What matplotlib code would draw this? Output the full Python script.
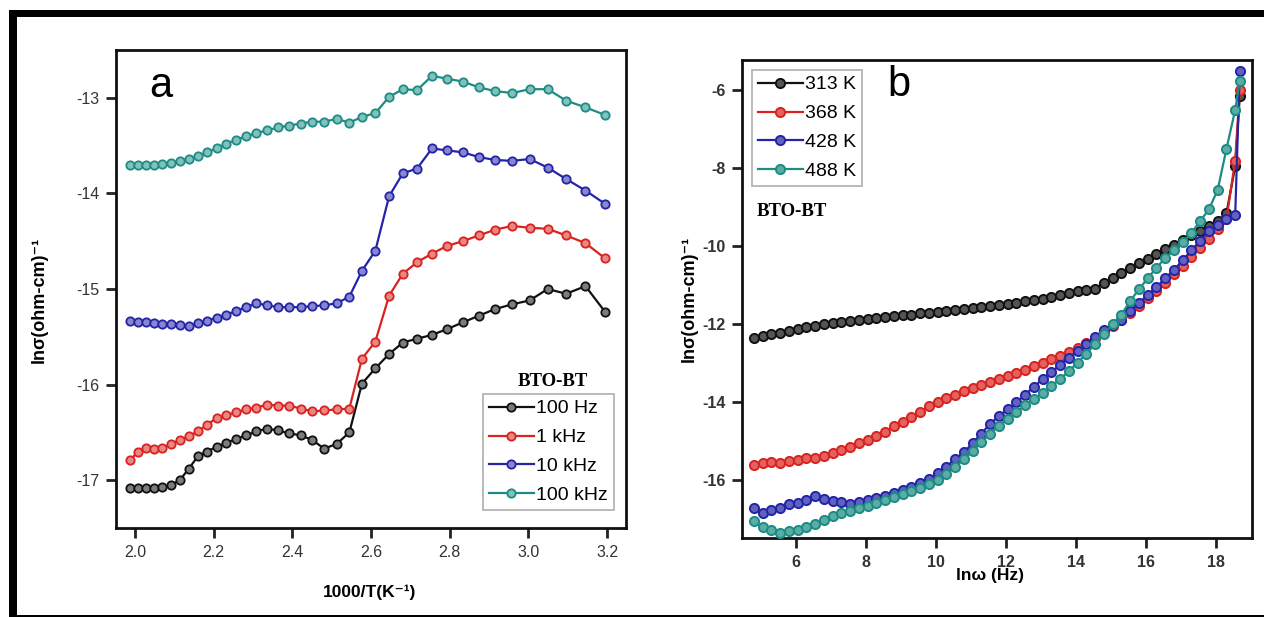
import matplotlib
matplotlib.use("Agg")
import matplotlib.pyplot as plt
from matplotlib.patches import Rectangle
from matplotlib.colors import to_rgb

# ---------------- data: panel (a) ----------------
inv_temp = [1.988, 2.008, 2.028, 2.049, 2.070, 2.092, 2.114, 2.137, 2.160, 2.183,
            2.208, 2.232, 2.257, 2.283, 2.309, 2.336, 2.364, 2.392, 2.421, 2.451,
            2.481, 2.513, 2.545, 2.577, 2.611, 2.646, 2.681, 2.717, 2.755, 2.793,
            2.833, 2.874, 2.915, 2.959, 3.003, 3.049, 3.096, 3.145, 3.195]

sig_100hz = [-17.08, -17.08, -17.08, -17.08, -17.07, -17.05, -17.00, -16.88, -16.75, -16.70,
             -16.65, -16.61, -16.57, -16.53, -16.49, -16.46, -16.48, -16.51, -16.53, -16.58,
             -16.67, -16.62, -16.50, -15.99, -15.83, -15.68, -15.56, -15.52, -15.48, -15.42,
             -15.35, -15.28, -15.21, -15.16, -15.12, -15.00, -15.05, -14.97, -15.24]
sig_1khz = [-16.79, -16.70, -16.66, -16.67, -16.66, -16.62, -16.58, -16.54, -16.49, -16.42,
            -16.35, -16.32, -16.29, -16.26, -16.24, -16.21, -16.22, -16.22, -16.25, -16.28,
            -16.27, -16.26, -16.25, -15.73, -15.55, -15.07, -14.84, -14.72, -14.63, -14.55,
            -14.50, -14.44, -14.38, -14.34, -14.36, -14.37, -14.44, -14.52, -14.68]
sig_10khz = [-15.33, -15.34, -15.34, -15.36, -15.37, -15.37, -15.38, -15.39, -15.36, -15.33,
             -15.30, -15.27, -15.23, -15.19, -15.15, -15.17, -15.19, -15.19, -15.19, -15.18,
             -15.17, -15.15, -15.08, -14.81, -14.60, -14.03, -13.79, -13.74, -13.53, -13.55,
             -13.57, -13.62, -13.65, -13.66, -13.64, -13.73, -13.85, -13.97, -14.11]
sig_100khz = [-13.70, -13.70, -13.70, -13.70, -13.69, -13.68, -13.66, -13.64, -13.61, -13.57,
              -13.53, -13.48, -13.44, -13.40, -13.37, -13.34, -13.31, -13.29, -13.27, -13.25,
              -13.25, -13.22, -13.26, -13.20, -13.16, -12.99, -12.91, -12.92, -12.77, -12.80,
              -12.83, -12.89, -12.93, -12.95, -12.91, -12.91, -13.03, -13.10, -13.18]

freq_labels = ["100 Hz", "1 kHz", "10 kHz", "100 kHz"]

# ---------------- data: panel (b) ----------------
ln_omega = [4.80, 5.05, 5.30, 5.55, 5.80, 6.05, 6.30, 6.55, 6.80, 7.05,
            7.30, 7.55, 7.80, 8.05, 8.30, 8.55, 8.80, 9.05, 9.30, 9.55,
            9.80, 10.05, 10.30, 10.55, 10.80, 11.05, 11.30, 11.55, 11.80, 12.05,
            12.30, 12.55, 12.80, 13.05, 13.30, 13.55, 13.80, 14.05, 14.30, 14.55,
            14.80, 15.05, 15.30, 15.55, 15.80, 16.05, 16.30, 16.55, 16.80, 17.05,
            17.30, 17.55, 17.80, 18.05, 18.30, 18.55, 18.68]

sig_313k = [-12.36, -12.30, -12.26, -12.22, -12.17, -12.12, -12.08, -12.04, -12.00, -11.96,
            -11.93, -11.91, -11.88, -11.86, -11.84, -11.81, -11.79, -11.77, -11.75, -11.72,
            -11.70, -11.68, -11.66, -11.63, -11.61, -11.58, -11.56, -11.53, -11.50, -11.47,
            -11.44, -11.41, -11.38, -11.34, -11.30, -11.25, -11.20, -11.15, -11.11, -11.10,
            -10.95, -10.82, -10.68, -10.55, -10.43, -10.32, -10.20, -10.08, -9.96, -9.84,
            -9.72, -9.60, -9.47, -9.34, -9.15, -7.95, -6.15]
sig_368k = [-15.62, -15.55, -15.52, -15.56, -15.50, -15.48, -15.44, -15.42, -15.38, -15.30,
            -15.22, -15.14, -15.05, -14.96, -14.86, -14.76, -14.62, -14.50, -14.38, -14.25,
            -14.10, -13.98, -13.88, -13.80, -13.70, -13.62, -13.55, -13.48, -13.40, -13.32,
            -13.25, -13.16, -13.08, -12.98, -12.90, -12.82, -12.72, -12.60, -12.48, -12.35,
            -12.20, -12.05, -11.88, -11.70, -11.52, -11.33, -11.14, -10.94, -10.72, -10.50,
            -10.28, -10.05, -9.80, -9.55, -9.30, -7.80, -6.00]
sig_428k = [-16.70, -16.85, -16.75, -16.72, -16.62, -16.58, -16.50, -16.40, -16.48, -16.52,
            -16.56, -16.60, -16.55, -16.50, -16.45, -16.40, -16.33, -16.25, -16.17, -16.08,
            -15.96, -15.82, -15.65, -15.45, -15.28, -15.05, -14.80, -14.55, -14.35, -14.18,
            -14.00, -13.80, -13.60, -13.40, -13.22, -13.04, -12.86, -12.68, -12.50, -12.32,
            -12.15, -12.02, -11.90, -11.65, -11.45, -11.25, -11.05, -10.82, -10.60, -10.36,
            -10.10, -9.85, -9.60, -9.45, -9.30, -9.20, -5.50]
sig_488k = [-17.05, -17.20, -17.28, -17.35, -17.30, -17.28, -17.20, -17.12, -17.02, -16.92,
            -16.85, -16.78, -16.72, -16.65, -16.58, -16.50, -16.43, -16.36, -16.28, -16.20,
            -16.10, -15.98, -15.84, -15.66, -15.46, -15.25, -15.02, -14.80, -14.60, -14.42,
            -14.25, -14.08, -13.92, -13.75, -13.58, -13.40, -13.20, -12.98, -12.75, -12.50,
            -12.24, -12.00, -11.75, -11.40, -11.10, -10.82, -10.55, -10.30, -10.10, -9.90,
            -9.65, -9.35, -9.05, -8.55, -7.50, -6.50, -5.75]

temp_labels = ["313 K", "368 K", "428 K", "488 K"]

# ---------------- styling ----------------
colors = ["#111111", "#d8231f", "#2424a8", "#1c8c84"]
W, H = 1264, 617
NARROW = ["Liberation Sans Narrow", "Liberation Sans", "DejaVu Sans"]
SANS = ["Liberation Sans", "DejaVu Sans"]
SERIF = ["Liberation Serif", "DejaVu Serif"]


def tint(c, amount):
    r, g, b = to_rgb(c)
    return (r + (1 - r) * amount, g + (1 - g) * amount, b + (1 - b) * amount)


def series(ax, x, y, c, label, ms, mew, light):
    ax.plot(x, y, color=c, lw=1.6, marker="o", ms=ms,
            mfc=tint(c, light), mec=c, mew=mew, label=label, zorder=3)


def style_axes(ax, bold_ticks):
    for s in ax.spines.values():
        s.set_linewidth(2.0)
        s.set_color("#111111")
    ax.tick_params(direction="out", length=7, width=2, color="#222222",
                   labelsize=11.5, labelcolor="#333333", pad=5)
    for lab in ax.get_xticklabels() + ax.get_yticklabels():
        lab.set_family(NARROW)
        if bold_ticks:
            lab.set_fontweight("bold")


fig = plt.figure(figsize=(W / 100, H / 100), dpi=100)
fig.patch.set_facecolor("white")

# frame strips around the figure
fig.add_artist(Rectangle((9 / W, 1 - 17 / H), 1, 7 / H, transform=fig.transFigure,
                         color="black", lw=0))
fig.add_artist(Rectangle((9 / W, 0), 8 / W, 1 - 10 / H, transform=fig.transFigure,
                         color="black", lw=0))
fig.add_artist(Rectangle((9 / W, 0), 1, 2.5 / H, transform=fig.transFigure,
                         color="black", lw=0))

legend_kw = dict(borderaxespad=0, prop={"family": NARROW, "size": 14},
                 handlelength=2.3, handletextpad=0.15, labelspacing=0.58,
                 borderpad=0.3, fancybox=False, frameon=True, edgecolor="#999999")

# ---------------- panel (a) ----------------
axa = fig.add_axes([116 / W, 1 - 528 / H, 510 / W, 478 / H])
for y, c, lab in zip([sig_100hz, sig_1khz, sig_10khz, sig_100khz], colors, freq_labels):
    series(axa, inv_temp, y, c, lab, 6.0, 1.3, 0.45)
axa.set_xlim(1.952, 3.248)
axa.set_ylim(-17.5, -12.5)
axa.set_xticks([2.0, 2.2, 2.4, 2.6, 2.8, 3.0, 3.2])
axa.set_xticklabels(["2.0", "2.2", "2.4", "2.6", "2.8", "3.0", "3.2"])
axa.set_yticks([-17, -16, -15, -14, -13])
axa.set_yticklabels(["-17", "-16", "-15", "-14", "-13"])
style_axes(axa, False)
axa.set_xlabel("1000/T(K⁻¹)", family=SANS, fontweight="bold", fontsize=12.5)
axa.xaxis.set_label_coords(0.498, -0.118)
axa.set_ylabel("lnσ(ohm-cm)⁻¹", family=SANS, fontweight="bold", fontsize=13)
axa.yaxis.set_label_coords(-0.134, 0.477)
axa.text(0.065, 0.925, "a", transform=axa.transAxes, fontsize=30,
         family=SANS, ha="left", va="center")
leg_a = axa.legend(loc="upper left", bbox_to_anchor=(483 / W, 1 - 394 / H),
                   bbox_transform=fig.transFigure, **legend_kw)
leg_a.get_frame().set_linewidth(1.2)
fig.text(553 / W, 1 - 381 / H, "BTO-BT", family=SERIF, fontweight="bold",
         fontsize=13.5, ha="center", va="center")

# ---------------- panel (b) ----------------
axb = fig.add_axes([742 / W, 1 - 538 / H, 510 / W, 478 / H])
for y, c, lab in zip([sig_313k, sig_368k, sig_428k, sig_488k], colors, temp_labels):
    series(axb, ln_omega, y, c, lab, 6.6, 1.4, 0.28)
axb.set_xlim(4.46, 19.03)
axb.set_ylim(-17.48, -5.22)
axb.set_xticks([6, 8, 10, 12, 14, 16, 18])
axb.set_xticklabels(["6", "8", "10", "12", "14", "16", "18"])
axb.set_yticks([-16, -14, -12, -10, -8, -6])
axb.set_yticklabels(["-16", "-14", "-12", "-10", "-8", "-6"])
style_axes(axb, True)
axb.set_xlabel("lnω (Hz)", family=SANS, fontweight="bold", fontsize=12.5)
axb.xaxis.set_label_coords(0.486, -0.062)
axb.set_ylabel("lnσ(ohm-cm)⁻¹", family=SANS, fontweight="bold", fontsize=13)
axb.yaxis.set_label_coords(-0.087, 0.5)
axb.text(0.285, 0.948, "b", transform=axb.transAxes, fontsize=30,
         family=SANS, ha="left", va="center")
leg_b = axb.legend(loc="upper left", bbox_to_anchor=(752 / W, 1 - 70 / H),
                   bbox_transform=fig.transFigure, **legend_kw)
leg_b.get_frame().set_linewidth(1.2)
fig.text(757 / W, 1 - 211 / H, "BTO-BT", family=SERIF, fontweight="bold",
         fontsize=13.5, ha="left", va="center")

fig.savefig("out.png", dpi=100, facecolor="white")
